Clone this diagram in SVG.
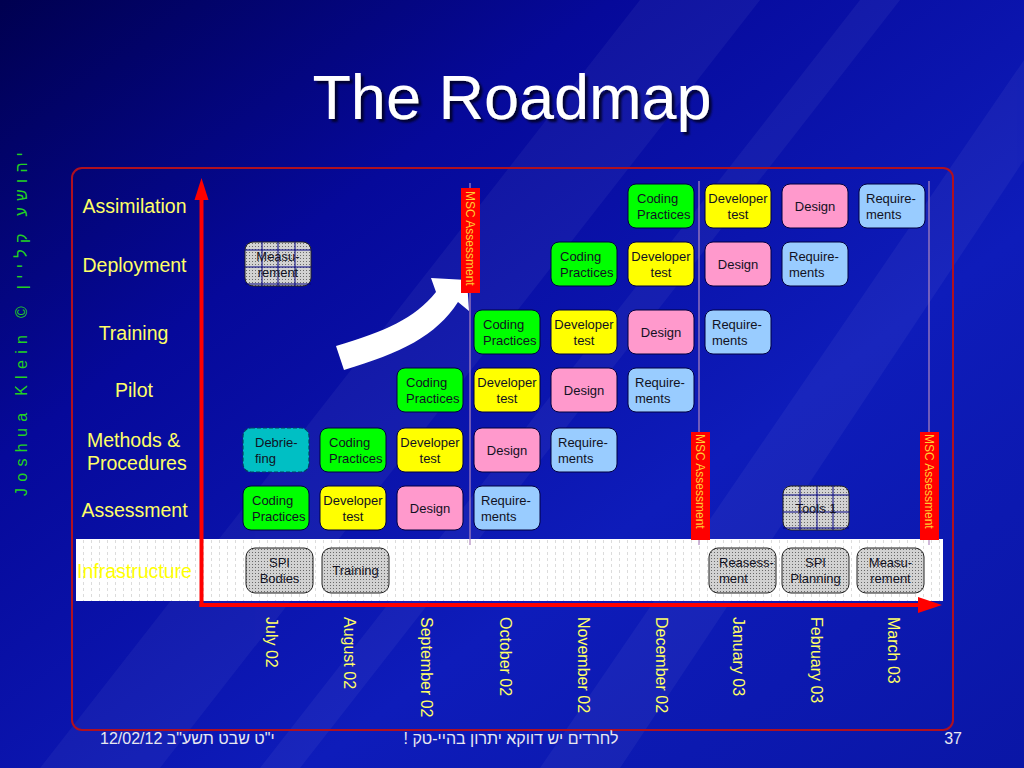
<svg xmlns="http://www.w3.org/2000/svg" width="1024" height="768" viewBox="0 0 1024 768">
<defs>
<linearGradient id="bg" x1="0" y1="0" x2="1" y2="1">
<stop offset="0" stop-color="#000050"/>
<stop offset="0.3" stop-color="#06099a"/>
<stop offset="0.65" stop-color="#0e1cba"/>
<stop offset="1" stop-color="#0a16a6"/>
</linearGradient>
<filter id="shadow" x="-5%" y="-20%" width="115%" height="150%">
<feDropShadow dx="3" dy="3" stdDeviation="1.2" flood-color="#000020" flood-opacity="0.85"/>
</filter>
<pattern id="dots" width="3" height="3" patternUnits="userSpaceOnUse">
<rect width="3" height="3" fill="#d2d2d2"/>
<rect width="1" height="1" fill="#6a6a6a"/>
</pattern>
<pattern id="band" width="8" height="6" patternUnits="userSpaceOnUse">
<rect width="8" height="6" fill="#ffffff"/>
<rect x="3" y="0" width="1" height="3" fill="#dcdcdc"/>
</pattern>
<style>
.t{font-family:"Liberation Sans",Arial,sans-serif;font-size:13px;fill:#111122}
.c{text-anchor:middle}
.lbl{font-family:"Liberation Sans",Arial,sans-serif;font-size:19.5px;fill:#ffff66}
.mon{font-family:"Liberation Sans",Arial,sans-serif;font-size:16px;fill:#ffff66}
.msc{font-family:"Liberation Sans",Arial,sans-serif;font-size:12px;fill:#ffcc33}
.ft{font-family:"Liberation Sans",Arial,sans-serif;font-size:16px;fill:#e8e8f0}
.bx{stroke:#000040;stroke-width:1}
.g{fill:#00ff00}
.y{fill:#ffff00}
.p{fill:#ff99cc}
.b{fill:#99ccff}
.gr{fill:url(#dots);stroke:#222;stroke-width:1}
.grid{stroke:#000080;stroke-width:1;fill:none}
.vl{stroke:#b088c0;stroke-width:1.2}
</style>
</defs>
<rect width="1024" height="768" fill="url(#bg)"/>
<g opacity="0.045" fill="#ffffff">
<polygon points="640,0 760,0 160,768 40,768"/>
<polygon points="860,0 900,0 300,768 260,768"/>
<polygon points="1024,60 1024,160 620,768 540,768"/>
</g>

<!-- title -->
<text x="512" y="119" text-anchor="middle" font-family="Liberation Sans, Arial, sans-serif" font-size="63" fill="#ffffff" filter="url(#shadow)">The Roadmap</text>

<!-- side credit -->
<text transform="translate(27,496) rotate(-90)" font-family="Liberation Sans, Arial, sans-serif" font-size="16" fill="#22d022" letter-spacing="6.3">Joshua Klein © יהושע קליין</text>

<!-- frame -->
<rect x="72" y="168" width="881" height="562" rx="10" fill="none" stroke="#b01020" stroke-width="2"/>
<rect x="76" y="539" width="867" height="62" fill="url(#band)"/>

<!-- row labels -->
<g id="row-labels">
<text class="lbl" x="134.5" y="213" text-anchor="middle">Assimilation</text>
<text class="lbl" x="134.5" y="272" text-anchor="middle">Deployment</text>
<text class="lbl" x="133.5" y="340" text-anchor="middle">Training</text>
<text class="lbl" x="134" y="397" text-anchor="middle">Pilot</text>
<text class="lbl" x="87" y="447">Methods &amp;</text>
<text class="lbl" x="87" y="470">Procedures</text>
<text class="lbl" x="134.5" y="517" text-anchor="middle">Assessment</text>
<text class="lbl" x="134.5" y="578" text-anchor="middle" style="fill:#ffff00">Infrastructure</text>
</g>

<!-- connectors -->
<g id="connectors">
<line class="vl" x1="470" y1="183" x2="470" y2="545"/>
<line class="vl" x1="699" y1="181" x2="699" y2="545"/>
<line class="vl" x1="929" y1="181" x2="929" y2="545"/>
<line x1="201.5" y1="196" x2="201.5" y2="607" stroke="#ff0000" stroke-width="4"/>
<polygon points="201.5,178 194.5,200 208.5,200" fill="#ff0000"/>
<line x1="199.5" y1="605" x2="922" y2="605" stroke="#ff0000" stroke-width="4"/>
<polygon points="942,605 918,597 918,613" fill="#ff0000"/>
<path d="M336,346 C386,331 414,319 436,292 L431,278 L467,280 L469,311 L458,302 C436,336 401,353 344,370 Z" fill="#ffffff"/>
</g>

<!-- MSC Assessment bars -->
<g id="msc1"><rect x="461" y="188" width="19" height="105" fill="#ff0000"/><text class="msc" transform="translate(466,191) rotate(90)">MSC Assessment</text></g>
<g id="msc2"><rect x="691" y="432" width="19" height="108" fill="#ff0000"/><text class="msc" transform="translate(696,434) rotate(90)">MSC Assessment</text></g>
<g id="msc3"><rect x="920" y="432" width="19" height="108" fill="#ff0000"/><text class="msc" transform="translate(925,434) rotate(90)">MSC Assessment</text></g>

<!-- Assimilation row -->
<g id="asm-coding"><rect class="bx g" x="628" y="184" width="66" height="44" rx="8"/><text class="t" x="637" y="203">Coding</text><text class="t" x="637" y="219">Practices</text></g>
<g id="asm-dev"><rect class="bx y" x="705" y="184" width="66" height="44" rx="8"/><text class="t c" x="738" y="203">Developer</text><text class="t c" x="738" y="219">test</text></g>
<g id="asm-design"><rect class="bx p" x="782" y="184" width="66" height="44" rx="8"/><text class="t c" x="815" y="211">Design</text></g>
<g id="asm-req"><rect class="bx b" x="859" y="184" width="66" height="44" rx="8"/><text class="t" x="866" y="203">Require-</text><text class="t" x="866" y="219">ments</text></g>

<!-- Deployment row -->
<g id="dep-meas"><rect class="gr" x="245" y="242" width="66" height="44" rx="8"/><path class="grid" d="M262,242V286M278,242V286M295,242V286M245,250H311M245,267H311M245,284H311"/><text class="t c" x="278" y="261">Measu-</text><text class="t c" x="278" y="277">rement</text></g>
<g id="dep-coding"><rect class="bx g" x="551" y="242" width="66" height="44" rx="8"/><text class="t" x="560" y="261">Coding</text><text class="t" x="560" y="277">Practices</text></g>
<g id="dep-dev"><rect class="bx y" x="628" y="242" width="66" height="44" rx="8"/><text class="t c" x="661" y="261">Developer</text><text class="t c" x="661" y="277">test</text></g>
<g id="dep-design"><rect class="bx p" x="705" y="242" width="66" height="44" rx="8"/><text class="t c" x="738" y="269">Design</text></g>
<g id="dep-req"><rect class="bx b" x="782" y="242" width="66" height="44" rx="8"/><text class="t" x="789" y="261">Require-</text><text class="t" x="789" y="277">ments</text></g>

<!-- Training row -->
<g id="tr-coding"><rect class="bx g" x="474" y="310" width="66" height="44" rx="8"/><text class="t" x="483" y="329">Coding</text><text class="t" x="483" y="345">Practices</text></g>
<g id="tr-dev"><rect class="bx y" x="551" y="310" width="66" height="44" rx="8"/><text class="t c" x="584" y="329">Developer</text><text class="t c" x="584" y="345">test</text></g>
<g id="tr-design"><rect class="bx p" x="628" y="310" width="66" height="44" rx="8"/><text class="t c" x="661" y="337">Design</text></g>
<g id="tr-req"><rect class="bx b" x="705" y="310" width="66" height="44" rx="8"/><text class="t" x="712" y="329">Require-</text><text class="t" x="712" y="345">ments</text></g>

<!-- Pilot row -->
<g id="pi-coding"><rect class="bx g" x="397" y="368" width="66" height="44" rx="8"/><text class="t" x="406" y="387">Coding</text><text class="t" x="406" y="403">Practices</text></g>
<g id="pi-dev"><rect class="bx y" x="474" y="368" width="66" height="44" rx="8"/><text class="t c" x="507" y="387">Developer</text><text class="t c" x="507" y="403">test</text></g>
<g id="pi-design"><rect class="bx p" x="551" y="368" width="66" height="44" rx="8"/><text class="t c" x="584" y="395">Design</text></g>
<g id="pi-req"><rect class="bx b" x="628" y="368" width="66" height="44" rx="8"/><text class="t" x="635" y="387">Require-</text><text class="t" x="635" y="403">ments</text></g>

<!-- Methods & Procedures row -->
<g id="mp-debrief"><rect x="243" y="428" width="66" height="44" rx="8" fill="#00bfc4" stroke="#004060" stroke-width="1.2" stroke-dasharray="4,2"/><text class="t" x="255" y="447">Debrie-</text><text class="t" x="255" y="463">fing</text></g>
<g id="mp-coding"><rect class="bx g" x="320" y="428" width="66" height="44" rx="8"/><text class="t" x="329" y="447">Coding</text><text class="t" x="329" y="463">Practices</text></g>
<g id="mp-dev"><rect class="bx y" x="397" y="428" width="66" height="44" rx="8"/><text class="t c" x="430" y="447">Developer</text><text class="t c" x="430" y="463">test</text></g>
<g id="mp-design"><rect class="bx p" x="474" y="428" width="66" height="44" rx="8"/><text class="t c" x="507" y="455">Design</text></g>
<g id="mp-req"><rect class="bx b" x="551" y="428" width="66" height="44" rx="8"/><text class="t" x="558" y="447">Require-</text><text class="t" x="558" y="463">ments</text></g>

<!-- Assessment row -->
<g id="as-coding"><rect class="bx g" x="243" y="486" width="66" height="44" rx="8"/><text class="t" x="252" y="505">Coding</text><text class="t" x="252" y="521">Practices</text></g>
<g id="as-dev"><rect class="bx y" x="320" y="486" width="66" height="44" rx="8"/><text class="t c" x="353" y="505">Developer</text><text class="t c" x="353" y="521">test</text></g>
<g id="as-design"><rect class="bx p" x="397" y="486" width="66" height="44" rx="8"/><text class="t c" x="430" y="513">Design</text></g>
<g id="as-req"><rect class="bx b" x="474" y="486" width="66" height="44" rx="8"/><text class="t" x="481" y="505">Require-</text><text class="t" x="481" y="521">ments</text></g>
<g id="as-tools"><rect class="gr" x="783" y="486" width="66" height="44" rx="8"/><path class="grid" d="M800,486V530M817,486V530M833,486V530M783,495H849M783,512H849M783,528H849"/><text class="t c" x="816" y="513">Tools 1</text></g>

<!-- Infrastructure row -->
<g id="in-spi"><rect class="gr" x="246" y="548" width="67" height="45" rx="9"/><text class="t c" x="279.5" y="567">SPI</text><text class="t c" x="279.5" y="583">Bodies</text></g>
<g id="in-training"><rect class="gr" x="322" y="548" width="67" height="45" rx="9"/><text class="t c" x="355.5" y="575">Training</text></g>
<g id="in-reas"><rect class="gr" x="709" y="548" width="67" height="45" rx="9"/><text class="t" x="719" y="567">Reasess-</text><text class="t" x="719" y="583">ment</text></g>
<g id="in-spiplan"><rect class="gr" x="782" y="548" width="67" height="45" rx="9"/><text class="t c" x="815.5" y="567">SPI</text><text class="t c" x="815.5" y="583">Planning</text></g>
<g id="in-meas"><rect class="gr" x="857" y="548" width="67" height="45" rx="9"/><text class="t c" x="890.5" y="567">Measu-</text><text class="t c" x="890.5" y="583">rement</text></g>

<!-- months -->
<g id="months">
<text class="mon" transform="translate(266,617) rotate(90)">July 02</text>
<text class="mon" transform="translate(344,617) rotate(90)">August 02</text>
<text class="mon" transform="translate(421,617) rotate(90)">September 02</text>
<text class="mon" transform="translate(500,617) rotate(90)">October 02</text>
<text class="mon" transform="translate(578,617) rotate(90)">November 02</text>
<text class="mon" transform="translate(656,617) rotate(90)">December 02</text>
<text class="mon" transform="translate(733,617) rotate(90)">January 03</text>
<text class="mon" transform="translate(811,617) rotate(90)">February 03</text>
<text class="mon" transform="translate(888,617) rotate(90)">March 03</text>
</g>

<!-- footer -->
<text class="ft" x="100" y="744">12/02/12 י"ט שבט תשע"ב</text>
<text class="ft" x="511" y="744" text-anchor="middle" font-size="15">לחרדים יש דווקא יתרון בהיי-טק !&#x200F;</text>
<text class="ft" x="962" y="744" text-anchor="end">37</text>
</svg>
